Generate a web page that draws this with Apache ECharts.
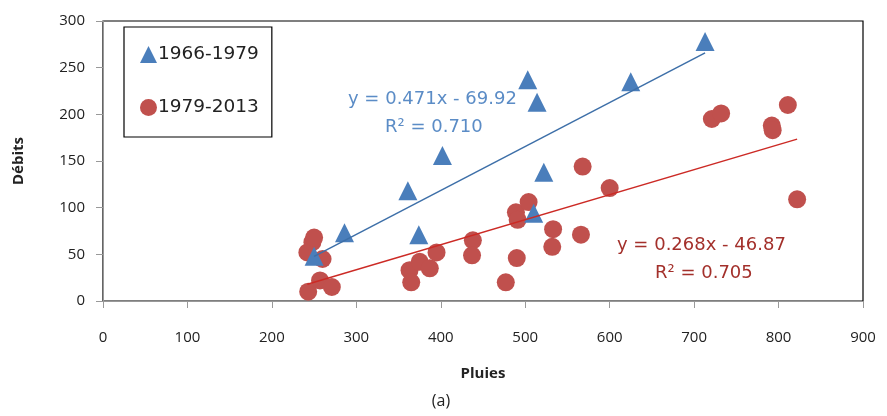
<!DOCTYPE html>
<html>
<head>
<meta charset="utf-8">
<script src="https://cdn.jsdelivr.net/npm/echarts@6/dist/echarts.min.js"></script>
<style>
  html, body { margin: 0; padding: 0; background: #fff; }
  #chart { width: 887px; height: 416px; }
</style>
</head>
<body>
<div id="chart"></div>
<script>
// 1966-1979 (triangles)
var serieA = [
  [250, 48], [286, 73], [361, 118], [374, 71], [402, 156],
  [503, 237], [514, 213], [510, 94], [522, 138], [625, 235], [713, 278]
];
// 1979-2013 (cercles)
var serieB = [
  [242, 52], [248, 63], [250, 68], [260, 45], [243, 10], [257, 22], [271, 15],
  [363, 33], [365, 20], [375, 42], [387, 35], [395, 52],
  [438, 65], [437, 49],
  [477, 20], [490, 46], [489, 95], [491, 87], [504, 106],
  [533, 77], [532, 58], [566, 71], [568, 144], [600, 121],
  [721, 195], [732, 201], [792, 188], [793, 183], [811, 210], [822, 109]
];
var nomsSeries = ['1966-1979', '1979-2013'];
// equations de tendance
var pentes = [0.471, 0.268];
var origines = [-69.92, -46.87];
var equations = ['y = 0.471x - 69.92', 'y = 0.268x - 46.87'];
var r2 = ['0.710', '0.705'];

function tendance(data, a, b) {
  var xs = data.map(function (p) { return p[0]; });
  var x0 = Math.min.apply(null, xs), x1 = Math.max.apply(null, xs);
  return [[x0, a * x0 + b], [x1, a * x1 + b]];
}

var couleurs = ['#4a7ebb', '#c0504d'];
var couleursLigne = ['#3d6fa8', '#cc2a25'];
var couleursTexte = ['#5b8cc6', '#a3302b'];
var police = 'Open Sans';
var policeLarge = 'DejaVu Sans';

var myChart = echarts.init(document.getElementById('chart'));
var option = {
  backgroundColor: '#fff',
  animation: false,
  textStyle: { fontFamily: police },
  grid: {
    left: 103, right: 24, top: 21, bottom: 115,
    show: true, borderColor: '#000', borderWidth: 1.2, backgroundColor: '#fff'
  },
  legend: {
    left: 124, top: 27,
    orient: 'vertical',
    data: [
      { name: nomsSeries[0], icon: 'triangle' },
      { name: nomsSeries[1], icon: 'circle' }
    ],
    itemWidth: 17, itemHeight: 17, itemGap: 34,
    padding: [18, 13, 20, 16],
    borderColor: '#000', borderWidth: 1.2,
    textStyle: { fontSize: 18.5, color: '#222', fontFamily: policeLarge, padding: [0, 0, 0, -4] }
  },
  xAxis: {
    type: 'value', min: 0, max: 900, interval: 100,
    name: 'Pluies', nameLocation: 'middle', nameGap: 65,
    nameTextStyle: { fontSize: 15, color: '#222', fontWeight: 'bold' },
    axisLine: { show: true, lineStyle: { color: '#999' } },
    axisTick: { show: true, length: 7, lineStyle: { color: '#999' } },
    axisLabel: { fontSize: 15, color: '#222', margin: 29 },
    splitLine: { show: false }
  },
  yAxis: {
    type: 'value', min: 0, max: 300, interval: 50,
    name: 'Débits', nameLocation: 'middle', nameGap: 77, nameRotate: 90,
    nameTextStyle: { fontSize: 15, color: '#222', fontWeight: 'bold' },
    axisLine: { show: true, lineStyle: { color: '#999' } },
    axisTick: { show: true, length: 7, lineStyle: { color: '#999' } },
    axisLabel: { fontSize: 15, color: '#222', margin: 18 },
    splitLine: { show: false }
  },
  series: [
    {
      name: nomsSeries[1], type: 'scatter', data: serieB,
      symbol: 'circle', symbolSize: 18,
      itemStyle: { color: couleurs[1], opacity: 1 }, z: 2
    },
    {
      name: nomsSeries[0], type: 'scatter', data: serieA,
      symbol: 'triangle', symbolSize: 19,
      itemStyle: { color: couleurs[0], opacity: 1 }, z: 3
    },
    {
      name: 'trend1', type: 'line', data: tendance(serieA, pentes[0], origines[0]),
      symbol: 'none', lineStyle: { color: couleursLigne[0], width: 1.5 }, z: 4, silent: true
    },
    {
      name: 'trend2', type: 'line', data: tendance(serieB, pentes[1], origines[1]),
      symbol: 'none', lineStyle: { color: couleursLigne[1], width: 1.5 }, z: 4, silent: true
    }
  ],
  graphic: [
    { type: 'text', x: 348, y: 99, style: { text: equations[0], fontSize: 18, fill: couleursTexte[0], fontFamily: policeLarge, verticalAlign: 'middle' } },
    { type: 'text', x: 385, y: 127, style: { text: 'R² = ' + r2[0], fontSize: 18, fill: couleursTexte[0], fontFamily: policeLarge, verticalAlign: 'middle' } },
    { type: 'text', x: 617, y: 245, style: { text: equations[1], fontSize: 18, fill: couleursTexte[1], fontFamily: policeLarge, verticalAlign: 'middle' } },
    { type: 'text', x: 655, y: 273, style: { text: 'R² = ' + r2[1], fontSize: 18, fill: couleursTexte[1], fontFamily: policeLarge, verticalAlign: 'middle' } },
    { type: 'text', x: 441, y: 401, style: { text: '(a)', fontSize: 16, fill: '#222', fontFamily: police, align: 'center', verticalAlign: 'middle' } }
  ]
};
myChart.setOption(option);
</script>
</body>
</html>
